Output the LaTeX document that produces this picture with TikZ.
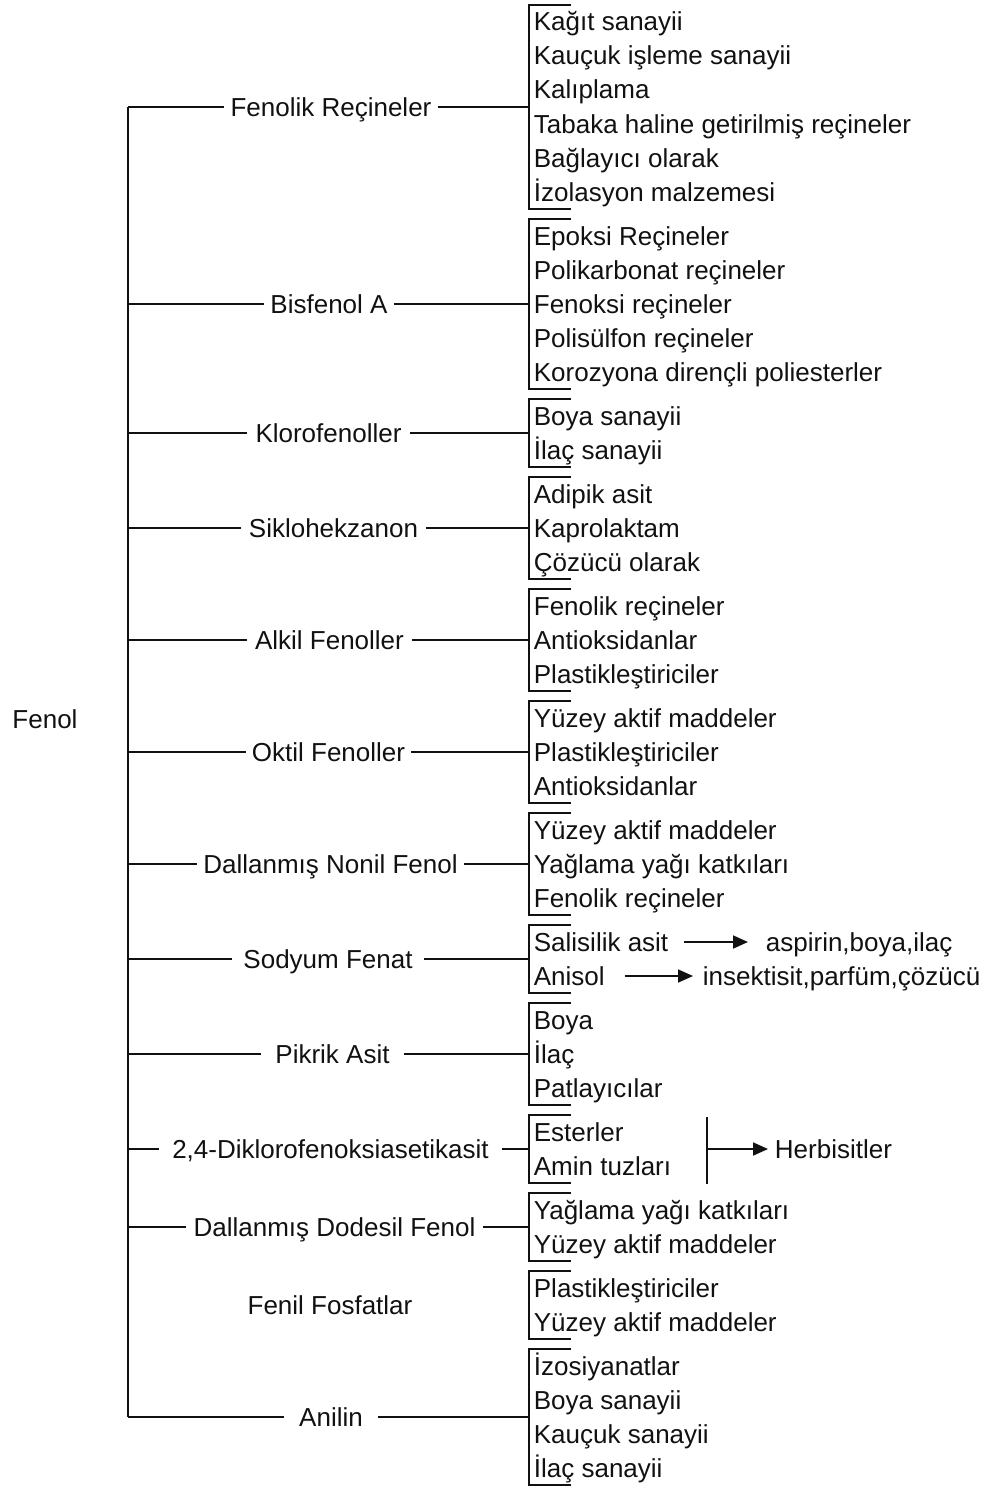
\documentclass[tikz,border=0pt]{standalone}
\usepackage{fontspec}
\setmainfont{Liberation Sans}
\usetikzlibrary{arrows.meta, positioning, calc}
\definecolor{cink}{HTML}{111111}
\tikzset{
  every picture/.style={line width=1.8pt},
  item/.style={anchor=west, inner sep=0pt, text height=18pt, text depth=0pt, text=cink, font=\fontsize{26pt}{31pt}\selectfont},
  branch/.style={inner sep=0pt, minimum width=#1, text height=18pt, text depth=0pt, text=cink, font=\fontsize{26pt}{31pt}\selectfont},
  branch/.default=1pt,
  link/.style={draw=cink, line width=1.8pt},
  bracket/.style={draw=cink, line width=1.8pt},
  arrow/.style={-{Triangle[length=15pt, width=13pt]}, draw=cink, line width=1.8pt},
}

\begin{document}
\begin{tikzpicture}[x=1pt, y=-1pt]
  \useasboundingbox (0,0) rectangle (996,1488);
  \coordinate (trunk) at (128,0); \coordinate (brk) at (529,0);
  \node[branch] (fenol) at (45,719) {Fenol};
  % second level
  \node[branch=212pt] (fenolik) at (331,107) {Fenolik Reçineler};
  \node[branch=128pt] (bisfenol) at (329,304) {Bisfenol A};
  \node[branch=161pt] (kloro) at (328.5,433) {Klorofenoller};
  \node[branch=183pt] (siklo) at (333.5,528) {Siklohekzanon};
  \node[branch=163pt] (alkil) at (329.5,640) {Alkil Fenoller};
  \node[branch=163pt] (oktil) at (328.5,752) {Oktil Fenoller};
  \node[branch=265pt] (nonil) at (330.5,864) {Dallanmış Nonil Fenol};
  \node[branch=190pt] (sodyum) at (328,959) {Sodyum Fenat};
  \node[branch=141pt] (pikrik) at (332.5,1054) {Pikrik Asit};
  \node[branch=341pt] (diklor) at (330.5,1149) {2,4-Diklorofenoksiasetikasit};
  \node[branch=295pt] (dodesil) at (334.5,1227) {Dallanmış Dodesil Fenol};
  \node[branch] (fosfat) at (330,1305) {Fenil Fosfatlar};
  \node[branch=92pt] (anilin) at (331,1417) {Anilin};
  \draw[link] (trunk |- fenolik) -- (trunk |- anilin);
  \draw[link] (trunk |- fenolik) -- (fenolik) -- (brk |- fenolik);
  \draw[link] (trunk |- bisfenol) -- (bisfenol) -- (brk |- bisfenol);
  \draw[link] (trunk |- kloro) -- (kloro) -- (brk |- kloro);
  \draw[link] (trunk |- siklo) -- (siklo) -- (brk |- siklo);
  \draw[link] (trunk |- alkil) -- (alkil) -- (brk |- alkil);
  \draw[link] (trunk |- oktil) -- (oktil) -- (brk |- oktil);
  \draw[link] (trunk |- nonil) -- (nonil) -- (brk |- nonil);
  \draw[link] (trunk |- sodyum) -- (sodyum) -- (brk |- sodyum);
  \draw[link] (trunk |- pikrik) -- (pikrik) -- (brk |- pikrik);
  \draw[link] (trunk |- diklor) -- (diklor) -- (brk |- diklor);
  \draw[link] (trunk |- dodesil) -- (dodesil) -- (brk |- dodesil);
  \draw[link] (trunk |- anilin) -- (anilin) -- (brk |- anilin);
  % brackets
  \draw[bracket] (571,5) -| (529,209) -- (571,209);
  \draw[bracket] (571,219) -| (529,389) -- (571,389);
  \draw[bracket] (571,399) -| (529,467) -- (571,467);
  \draw[bracket] (571,477) -| (529,579) -- (571,579);
  \draw[bracket] (571,589) -| (529,691) -- (571,691);
  \draw[bracket] (571,701) -| (529,803) -- (571,803);
  \draw[bracket] (571,813) -| (529,915) -- (571,915);
  \draw[bracket] (571,925) -| (529,993) -- (571,993);
  \draw[bracket] (571,1003) -| (529,1105) -- (571,1105);
  \draw[bracket] (571,1115) -| (529,1183) -- (571,1183);
  \draw[bracket] (571,1193) -| (529,1261) -- (571,1261);
  \draw[bracket] (571,1271) -| (529,1339) -- (571,1339);
  \draw[bracket] (571,1349) -| (529,1485) -- (571,1485);
  % uses
  \node[item] (kagit) at (533,22) {Kağıt sanayii};
  \node[item] (kaucuk) at (533,56) {Kauçuk işleme sanayii};
  \node[item] (kalip) at (533,90) {Kalıplama};
  \node[item] (tabaka) at (533,124) {Tabaka haline getirilmiş reçineler};
  \node[item] (baglayici) at (533,158) {Bağlayıcı olarak};
  \node[item] (izolasyon) at (533,192) {İzolasyon malzemesi};
  \node[item] (epoksi) at (533,236) {Epoksi Reçineler};
  \node[item] (polikarb) at (533,270) {Polikarbonat reçineler};
  \node[item] (fenoksi) at (533,304) {Fenoksi reçineler};
  \node[item] (polisulfon) at (533,338) {Polisülfon reçineler};
  \node[item] (korozyon) at (533,372) {Korozyona dirençli poliesterler};
  \node[item] (boya1) at (533,416) {Boya sanayii};
  \node[item] (ilac1) at (533,450) {İlaç sanayii};
  \node[item] (adipik) at (533,494) {Adipik asit};
  \node[item] (kaprol) at (533,528) {Kaprolaktam};
  \node[item] (cozucu) at (533,562) {Çözücü olarak};
  \node[item] (fenrec1) at (533,606) {Fenolik reçineler};
  \node[item] (antiok1) at (533,640) {Antioksidanlar};
  \node[item] (plast1) at (533,674) {Plastikleştiriciler};
  \node[item] (yuzey1) at (533,718) {Yüzey aktif maddeler};
  \node[item] (plast2) at (533,752) {Plastikleştiriciler};
  \node[item] (antiok2) at (533,786) {Antioksidanlar};
  \node[item] (yuzey2) at (533,830) {Yüzey aktif maddeler};
  \node[item] (yaglama1) at (533,864) {Yağlama yağı katkıları};
  \node[item] (fenrec2) at (533,898) {Fenolik reçineler};
  \node[item] (salisilik) at (533,942) {Salisilik asit};
  \node[item] (anisol) at (533,976) {Anisol};
  \node[item] (boya2) at (533,1020) {Boya};
  \node[item] (ilac2) at (533,1054) {İlaç};
  \node[item] (patlayici) at (533,1088) {Patlayıcılar};
  \node[item] (esterler) at (533,1132) {Esterler};
  \node[item] (amin) at (533,1166) {Amin tuzları};
  \node[item] (yaglama2) at (533,1210) {Yağlama yağı katkıları};
  \node[item] (yuzey3) at (533,1244) {Yüzey aktif maddeler};
  \node[item] (plast3) at (533,1288) {Plastikleştiriciler};
  \node[item] (yuzey4) at (533,1322) {Yüzey aktif maddeler};
  \node[item] (izosiyanat) at (533,1366) {İzosiyanatlar};
  \node[item] (boya3) at (533,1400) {Boya sanayii};
  \node[item] (kaucuk2) at (533,1434) {Kauçuk sanayii};
  \node[item] (ilac3) at (533,1468) {İlaç sanayii};
  % products
  \node[item] (aspirin) at (765,942) {aspirin,boya,ilaç};
  \node[item] (insektisit) at (702,976) {insektisit,parfüm,çözücü};
  \node[item] (herbisit) at (774,1149) {Herbisitler};
  \draw[arrow, shorten <=15pt, shorten >=17pt] (salisilik) -- (aspirin);
  \draw[arrow, shorten <=19pt, shorten >=9pt] (anisol) -- (insektisit);
  \coordinate (hb1) at (707,1117); \coordinate (hb2) at (707,1184);
  \draw[link] (hb1) -- (hb2);
  \draw[arrow, shorten >=6pt] (hb1 |- herbisit) -- (herbisit);
\end{tikzpicture}
\end{document}
